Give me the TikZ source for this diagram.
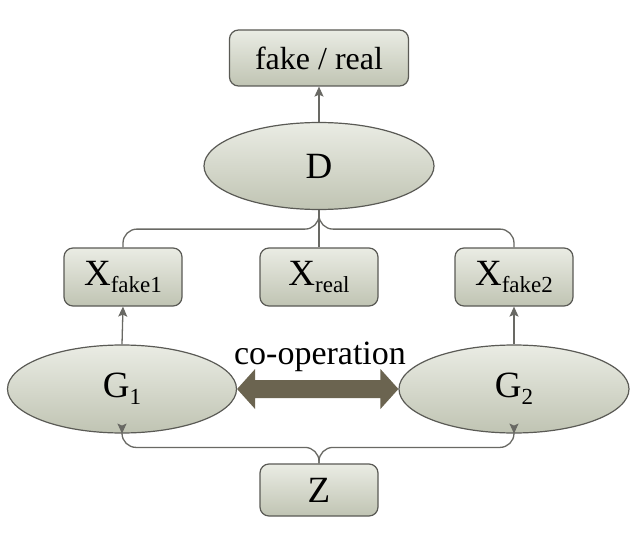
\documentclass[tikz,border=0pt]{standalone}
\usepackage{fontspec}
\setmainfont{Liberation Serif}
\usetikzlibrary{shapes.geometric,arrows.meta,calc}
\definecolor{edgec}{RGB}{90,90,85}
\definecolor{fillT}{RGB}{234,236,228}
\definecolor{fillB}{RGB}{192,196,179}
\definecolor{connc}{RGB}{105,105,100}
\definecolor{coopc}{RGB}{107,100,80}
\newcommand\subx[1]{{\fontsize{23}{23}\selectfont\raisebox{-7pt}{#1}}}
\begin{document}
\begin{tikzpicture}[x=1pt,y=-1pt,
 box/.style={draw=edgec, line width=1.2pt, rounded corners=9pt, top color=fillT, bottom color=fillB, inner sep=0pt, text=black},
 ell/.style={ellipse, draw=edgec, line width=1.2pt, top color=fillT, bottom color=fillB, inner sep=0pt, text=black},
 link/.style={draw=connc, line width=1.3pt},
 tip/.style={-{Stealth[length=10pt,width=9pt,inset=2pt]}},
 big/.style={font=\fontsize{37}{37}\selectfont}
]
\path[use as bounding box, fill=white] (0,0) rectangle (640,535);
\node[box, minimum width=179pt, minimum height=56pt, font=\fontsize{32}{32}\selectfont] (out) at (319,58) {fake / real};
\node[ell, big, minimum width=230pt, minimum height=87pt] (D) at (319,166) {D};
\node[box, big, minimum width=118pt, minimum height=58pt] (xf1) at (123,277) {X\subx{fake1}};
\node[box, big, minimum width=118pt, minimum height=58pt] (xr) at (319,277) {X\subx{real}};
\node[box, big, minimum width=118pt, minimum height=58pt] (xf2) at (514,277) {X\subx{fake2}};
\node[ell, big, minimum width=229pt, minimum height=88pt] (G1) at (122,389) {G\subx{1}};
\node[ell, big, minimum width=230pt, minimum height=88pt] (G2) at (514,389) {G\subx{2}};
\node[box, big, minimum width=118pt, minimum height=52pt] (Z) at (319,490) {Z};
\node[font=\fontsize{34}{34}\selectfont, inner sep=0pt] (lbl) at (320,357) {co-operation};
% connectors
\draw[link,tip] (D.north) -- (out.south);
\draw[link] (xr.north) -- (D.south);
\draw[link, rounded corners=14pt] (xf1.north) |- ($(D.south)+(0,19)$) -- (D.south);
\draw[link, rounded corners=14pt] (xf2.north) |- ($(D.south)+(0,19)$) -- (D.south);
\draw[link,tip] (G1.north) -- (xf1.south);
\draw[link,tip] (G2.north) -- (xf2.south);
\draw[link,tip,rounded corners=14pt] (Z.north) -- ($(Z.north)+(0,-16)$) -| (G1.south);
\draw[link,tip,rounded corners=14pt] (Z.north) -- ($(Z.north)+(0,-16)$) -| (G2.south);
% co-operation double arrow
\fill[coopc] (G1.east) -- ++(18,-20) -- ++(0,11) -- ($(G2.west)+(-18,-9)$) -- ++(0,-11) -- (G2.west) -- ++(-18,20) -- ++(0,-11) -- ($(G1.east)+(18,9)$) -- ++(0,11) -- cycle;
\end{tikzpicture}
\end{document}
